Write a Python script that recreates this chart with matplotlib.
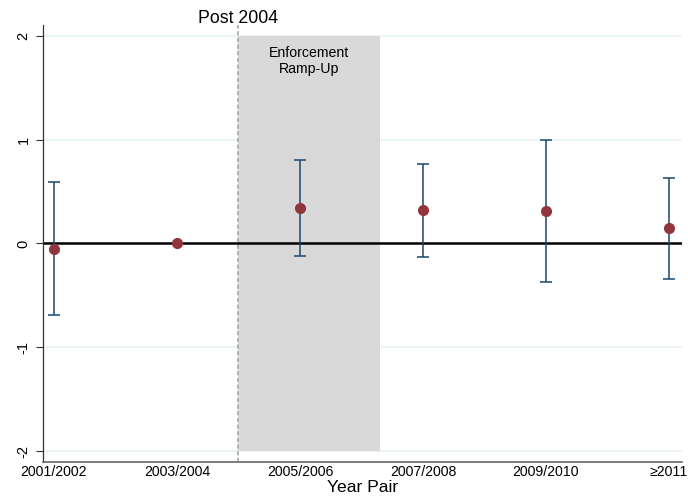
import numpy as np
import matplotlib.pyplot as plt

plt.rcParams['font.family'] = ['Liberation Sans', 'DejaVu Sans']

# Coefficients by year pair with 95% CI
year_pairs = ['2001/2002', '2003/2004', '2005/2006', '2007/2008', '2009/2010', '≥2011']
coef = [-0.055, 0.0, 0.344, 0.318, 0.311, 0.145]
ci_low = [-0.694, np.nan, -0.122, -0.132, -0.376, -0.344]
ci_high = [0.588, np.nan, 0.807, 0.768, 1.0, 0.627]

x = np.arange(len(year_pairs))
coef = np.array(coef)
lo = np.array(ci_low)
hi = np.array(ci_high)

fig = plt.figure(figsize=(6.88, 4.99), dpi=100)
ax = fig.add_axes([0.0625, 0.0741, 0.9288, 0.876])

# light gridlines
for g in [-2, -1, 0, 1, 2]:
    ax.axhline(g, color='#eaf2f3', lw=1.2, zorder=0)

# enforcement ramp-up shading
ax.fill_between([1.5, 2.65], -2, 2, color='#d9d9d9', lw=0, zorder=1)
ax.text(2.075, 1.9, 'Enforcement\nRamp-Up', ha='center', va='top',
        fontsize=10.2, linespacing=1.2, zorder=3)

# post 2004 marker
ax.axvline(1.5, color='#a6a6a6', lw=1.2, ls=(0, (2.5, 1.5)), zorder=2)
ax.text(1.5, 2.09, 'Post 2004', ha='center', va='bottom', fontsize=12.8,
        clip_on=False)

ax.axhline(0, color='black', lw=1.8, zorder=2)

mask = ~np.isnan(lo)
ax.errorbar(x[mask], coef[mask], yerr=[coef[mask] - lo[mask], hi[mask] - coef[mask]],
            fmt='none', ecolor='#1a476f', elinewidth=1.1, capsize=4.5, capthick=1.1, zorder=4)
ax.plot(x, coef, 'o', color='#90353b', ms=7, zorder=5)

ax.set_xlim(-0.0894, 5.106)
ax.set_ylim(-2.106, 2.106)
ax.set_xticks(x)
ax.set_xticklabels(year_pairs, fontsize=10.2)
ax.set_yticks([-2, -1, 0, 1, 2])
ax.set_yticklabels(['-2', '-1', '0', '1', '2'], fontsize=10.5, rotation=90, va='center')
ax.tick_params(axis='x', length=0, pad=2)
ax.tick_params(axis='y', length=5, width=0.8, color='#333333', pad=4)
ax.set_xlabel('Year Pair', fontsize=12.6, labelpad=1)

for s in ['top', 'right']:
    ax.spines[s].set_visible(False)
ax.spines['left'].set_color('#333333')
ax.spines['bottom'].set_color('#666666')
ax.spines['left'].set_linewidth(0.9)
ax.spines['bottom'].set_linewidth(1.2)

fig.savefig('out.png', dpi=100)
